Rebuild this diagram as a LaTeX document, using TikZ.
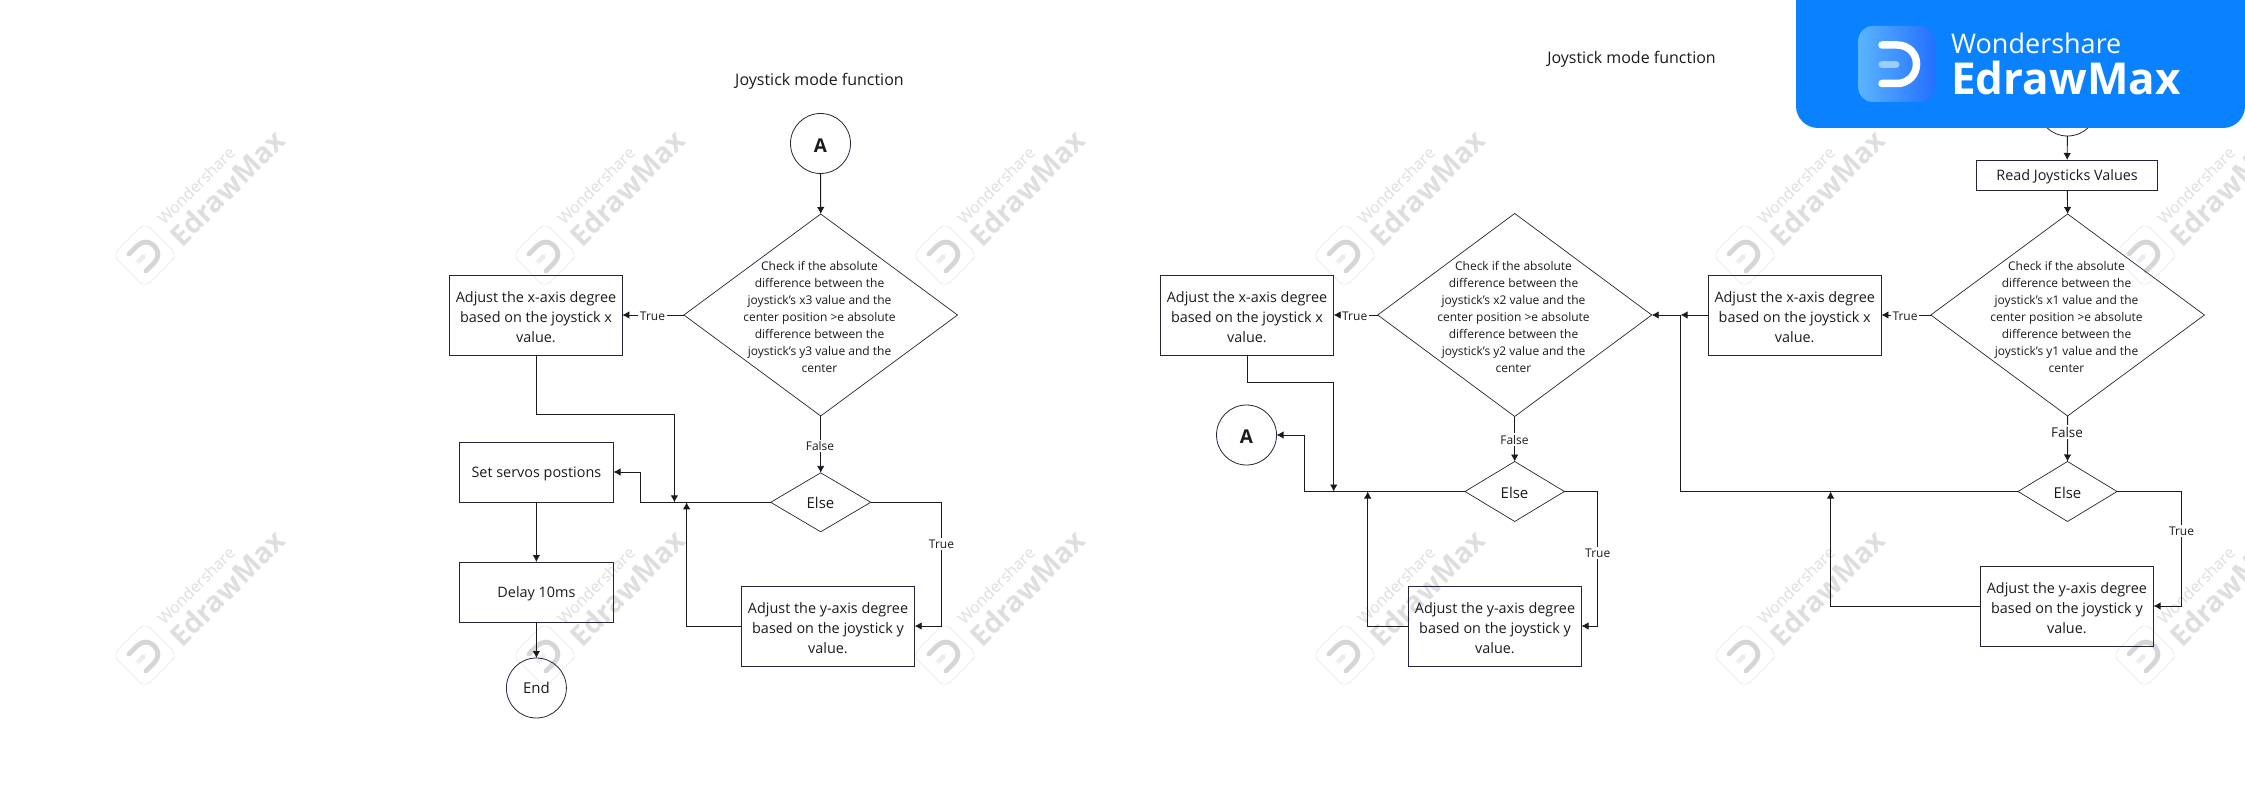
\documentclass[tikz,border=0pt]{standalone}
\usepackage{fontspec}
\setmainfont{Open Sans}
\newfontfamily\bannerfont{Open Sans}
\usetikzlibrary{shapes.geometric,arrows.meta,calc}
\definecolor{inkc}{HTML}{1B1B1F}
\definecolor{edgec}{HTML}{23263A}
\definecolor{wmline}{HTML}{E6E6E6}
\definecolor{wmtext}{HTML}{DEDEDE}
\definecolor{wmD}{HTML}{D6D6D6}
\definecolor{wmbar}{HTML}{EDEDED}
\definecolor{bannerblue}{HTML}{0A82FF}
\tikzset{
  boxnode/.style={draw=edgec,line width=0.9pt,rectangle,inner sep=0pt,outer sep=0pt},
  boxtext/.style={align=center,text=inkc,inner sep=0pt,font=\fontsize{14.4}{20}\selectfont},
  dianode/.style={draw=edgec,line width=0.7pt,diamond,inner sep=0pt,outer sep=0pt},
  diatext/.style={align=center,text=inkc,inner sep=0pt,font=\fontsize{12}{17}\selectfont},
  circnode/.style={draw=edgec,line width=0.8pt,circle,minimum size=60pt,inner sep=0pt,outer sep=0pt,text=inkc},
  lettertext/.style={font=\fontsize{19}{20}\selectfont\bfseries,text height=17.5pt,text depth=0pt},
  endtext/.style={font=\fontsize{15}{20}\selectfont},
  titlenode/.style={text=inkc,inner sep=0pt,font=\fontsize{16}{20}\selectfont},
  edgelab/.style={fill=white,text=inkc,inner sep=1.5pt,font=\fontsize{12}{13}\selectfont},
  edgelabbig/.style={fill=white,text=inkc,inner sep=1.5pt,font=\fontsize{13.5}{14}\selectfont},
  elsetext/.style={font=\fontsize{15}{20}\selectfont,text=inkc,inner sep=0pt},
  arr/.style={draw=inkc,line width=0.9pt,-{Latex[length=7pt,width=7.5pt]}},
  plainline/.style={draw=inkc,line width=0.9pt}
}
\newcommand{\wmark}[2]{%
  \begin{scope}[shift={(#1,#2)},rotate=45]
    \draw[wmline,line width=0.6pt,rounded corners=8pt] (-23,-23) rectangle (23,23);
    \draw[wmbar,line width=4.5pt,line cap=round] (-9,0) -- (-2,0);
    \draw[wmD,line width=4.8pt,line cap=round] (-10.5,-12) -- (1,-12)
      .. controls (8,-12) and (13,-7) .. (13,0) .. controls (13,7) and (8,12) .. (1,12) -- (-10.5,12);
  \end{scope}
  \node[rotate=45,text=wmtext,inner sep=0pt,font=\fontsize{16}{16}\selectfont] at ($(#1,#2)+(51,-69)$) {Wondershare};
  \node[rotate=45,text=wmtext,inner sep=0pt,font=\fontsize{28.5}{29}\selectfont\bfseries] at ($(#1,#2)+(82,-67)$) {EdrawMax};
}
\begin{document}
\begin{tikzpicture}[x=1pt,y=-1pt]
\fill[white] (0,0) rectangle (2245,794);
\useasboundingbox (0,0) rectangle (2245,794);
% watermarks
\foreach \wx in {145,545,945,1345,1745,2145}{\wmark{\wx}{255}\wmark{\wx}{655}}

% ---------- left chart ----------
\node[titlenode] (titleL) at (819.5,81.5) {Joystick mode function};
\node[circnode,lettertext] (aL) at (820.5,143.5) {A};
\node[dianode,minimum width=273.6pt,minimum height=202pt] (dL) at (820.7,315) {};
\node[diatext] (dLt) at (819.5,316.5) {Check if the absolute\\difference between the\\joystick's x3 value and the\\center position >e absolute\\difference between the\\joystick's y3 value and the\\center};
\node[boxnode,minimum width=172.6pt,minimum height=80pt] (xL) at (536,315) {};
\node[boxtext] (xLt) at ([yshift=-2pt]xL.center) {Adjust the x-axis degree\\based on the joystick x\\value.};
\node[dianode,minimum width=100pt,minimum height=59pt] (eL) at (820.7,502.3) {};
\node[elsetext] (eLt) at (820.5,503) {Else};
\node[boxnode,minimum width=154.2pt,minimum height=60pt] (setL) at (536.4,472) {};
\node[boxtext] (setLt) at ([yshift=-2pt]setL.center) {Set servos postions};
\node[boxnode,minimum width=154.2pt,minimum height=60pt] (delL) at (536.4,592) {};
\node[boxtext] (delLt) at ([yshift=-2pt]delL.center) {Delay 10ms};
\node[circnode,endtext] (endL) at (536.4,688) {End};
\node[boxnode,minimum width=173.4pt,minimum height=80pt] (yL) at (828,626) {};
\node[boxtext] (yLt) at ([yshift=-2pt]yL.center) {Adjust the y-axis degree\\based on the joystick y\\value.};
\coordinate (wxL) at (674.4,414);
\coordinate (jaL) at (674.4,502.3);
\coordinate (jbL) at (686.6,502.3);
\coordinate (tsL) at (640.7,472);
\coordinate (rL) at (941.5,626);
\draw[arr] (aL) -- (dL.north);
\draw[arr] (dL.west) -- (xL.east);
\node[edgelab] (tL) at (652.5,316) {True};
\draw[arr] (dL.south) -- (eL.north);
\node[edgelab] (fL) at (820,445.7) {False};
\draw[arr] (xL.south) |- (wxL) -- (jaL);
\draw[arr] (eL.west) -| (tsL) -- (setL.east);
\draw[arr] (eL.east) -| (rL) -- (yL.east);
\node[edgelab] (t2L) at (941.5,544) {True};
\draw[arr] (yL.west) -| (jbL);
\draw[arr] (setL) -- (delL);
\draw[arr] (delL) -- (endL);

% ---------- middle chart ----------
\node[titlenode] (titleM) at (1631.5,59.5) {Joystick mode function};
\node[dianode,minimum width=274pt,minimum height=203pt] (dM) at (1514.7,315) {};
\node[diatext] (dMt) at (1513.5,316.5) {Check if the absolute\\difference between the\\joystick's x2 value and the\\center position >e absolute\\difference between the\\joystick's y2 value and the\\center};
\node[boxnode,minimum width=173.4pt,minimum height=80pt] (xM) at (1247,315) {};
\node[boxtext] (xMt) at ([yshift=-2pt]xM.center) {Adjust the x-axis degree\\based on the joystick x\\value.};
\node[circnode,lettertext] (aM) at (1246.5,435) {A};
\node[dianode,minimum width=99.4pt,minimum height=60pt] (eM) at (1514.7,491.5) {};
\node[elsetext] (eMt) at (1514.5,492.5) {Else};
\node[boxnode,minimum width=173pt,minimum height=80pt] (yM) at (1495,626) {};
\node[boxtext] (yMt) at ([yshift=-2pt]yM.center) {Adjust the y-axis degree\\based on the joystick y\\value.};
\coordinate (wxM) at (1333.7,382);
\coordinate (jaM) at (1333.7,491.5);
\coordinate (jbM) at (1367.7,491.5);
\coordinate (tsM) at (1304.6,435);
\coordinate (rM) at (1597.7,626);
\draw[arr] (dM.west) -- (xM.east);
\node[edgelab] (tM) at (1354.7,316) {True};
\draw[arr] (dM.south) -- (eM.north);
\node[edgelab] (fM) at (1514.5,439.5) {False};
\draw[arr] (xM.south) |- (wxM) -- (jaM);
\draw[arr] (eM.west) -| (tsM) -- (aM.east);
\draw[arr] (eM.east) -| (rM) -- (yM.east);
\node[edgelab] (t2M) at (1597.7,553) {True};
\draw[arr] (yM.west) -| (jbM);

% ---------- right chart ----------
\node[circnode] (sR) at (2067.5,106) {};
\node[boxnode,minimum width=181.4pt,minimum height=30pt] (readR) at (2067.1,175) {};
\node[boxtext] (readRt) at ([yshift=-1.5pt]readR.center) {Read Joysticks Values};
\node[dianode,minimum width=273.6pt,minimum height=202pt] (dR) at (2067.6,315) {};
\node[diatext] (dRt) at (2066.5,316.5) {Check if the absolute\\difference between the\\joystick's x1 value and the\\center position >e absolute\\difference between the\\joystick's y1 value and the\\center};
\node[boxnode,minimum width=173.5pt,minimum height=80pt] (xR) at (1794.7,315) {};
\node[boxtext] (xRt) at ([yshift=-2pt]xR.center) {Adjust the x-axis degree\\based on the joystick x\\value.};
\node[dianode,minimum width=99pt,minimum height=60pt] (eR) at (2067.5,491.5) {};
\node[elsetext] (eRt) at (2067.5,492.5) {Else};
\node[boxnode,minimum width=173.4pt,minimum height=80pt] (yR) at (2066.9,606) {};
\node[boxtext] (yRt) at ([yshift=-2pt]yR.center) {Adjust the y-axis degree\\based on the joystick y\\value.};
\coordinate (jcR) at (1680.6,315);
\coordinate (luR) at (1680.6,491.5);
\coordinate (jbR) at (1830.6,491.5);
\coordinate (rR) at (2181.5,606);
\draw[arr] (sR) -- (readR);
\draw[arr] (readR) -- (dR.north);
\draw[arr] (dR.west) -- (xR.east);
\node[edgelab] (tR) at (1905,316) {True};
\draw[arr] (xR.west) -- (jcR);
\draw[arr] (jcR) -- (dM.east);
\draw[plainline] (eR.west) -- (luR) -- (jcR);
\draw[arr] (dR.south) -- (eR.north);
\node[edgelabbig] (fR) at (2067,432) {False};
\draw[arr] (eR.east) -| (rR) -- (yR.east);
\node[edgelab] (t2R) at (2181.5,531) {True};
\draw[arr] (yR.west) -| (jbR);

% ---------- banner ----------
\fill[bannerblue] (1796,0) [rounded corners=22pt] -- (1796,128) -- (2245,128) [sharp corners] -- (2245,0) -- cycle;
\path[rounded corners=14pt,shading angle=-45,
  left color={rgb,255:red,90;green,180;blue,255},right color={rgb,255:red,36;green,112;blue,255}] (1858.5,26) rectangle (1935,102);
\draw[white,line width=7.5pt,line cap=round] (1882,45) -- (1897,45)
  .. controls (1908,45) and (1916.5,53) .. (1916.5,64) .. controls (1916.5,75) and (1908,83.5) .. (1897,83.5) -- (1882,83.5);
\draw[white!60!bannerblue,line width=7pt,line cap=round] (1882,64.5) -- (1896,64.5);
\node[text=white,inner sep=0pt,anchor=west,font=\bannerfont\fontsize{27}{30}\selectfont] (bw) at (1951,43) {Wondershare};
\node[text=white,inner sep=0pt,anchor=west,font=\bannerfont\bfseries\fontsize{44}{46}\selectfont] (be) at (1951,78) {EdrawMax};
\end{tikzpicture}
\end{document}
